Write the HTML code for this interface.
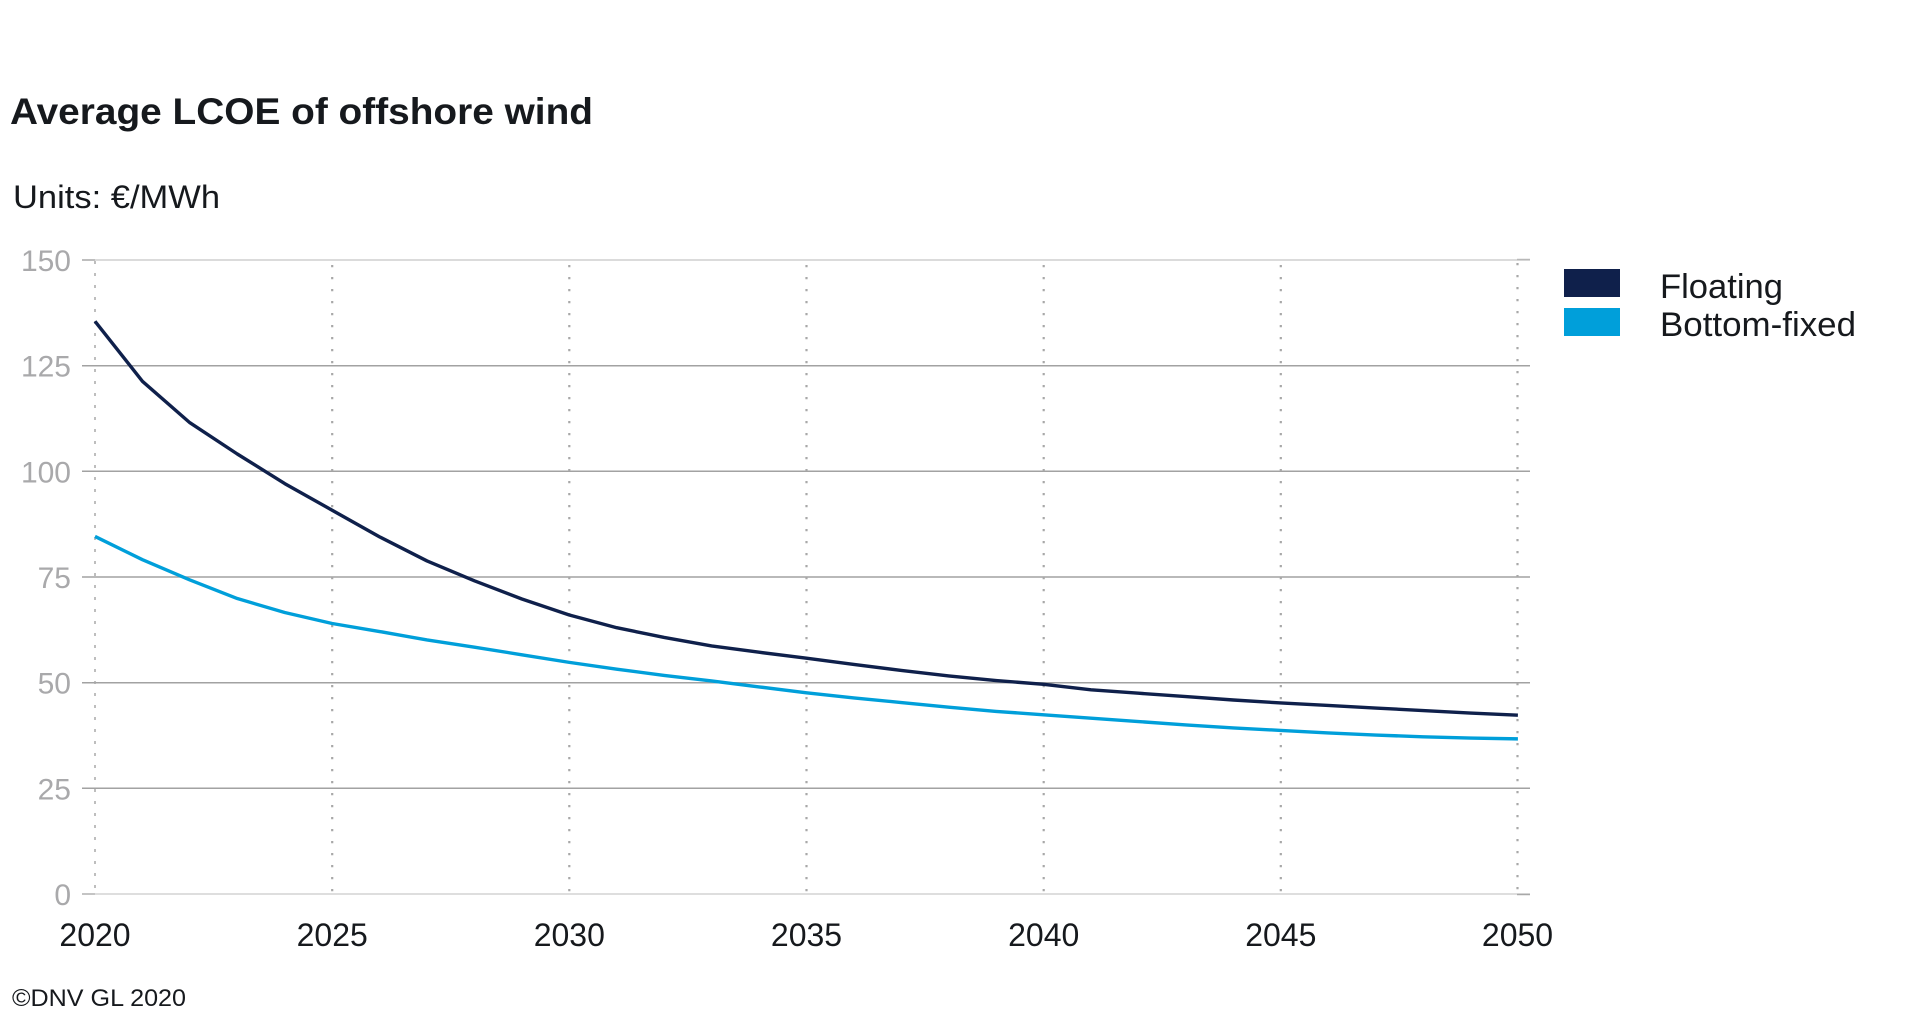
<!DOCTYPE html>
<html>
<head>
<meta charset="utf-8">
<style>
  html, body { margin: 0; padding: 0; background: #ffffff; }
  svg { display: block; }
  text { font-family: "Liberation Sans", "DejaVu Sans", sans-serif; }
</style>
</head>
<body>
<svg width="1907" height="1017" viewBox="0 0 1907 1017" xmlns="http://www.w3.org/2000/svg">
  <rect x="0" y="0" width="1907" height="1017" fill="#ffffff"/>

  <!-- Title -->
  <text x="10" y="124" font-size="37" font-weight="bold" fill="#16191d" textLength="583" lengthAdjust="spacingAndGlyphs">Average LCOE of offshore wind</text>
  <!-- Units -->
  <text x="13" y="208" font-size="32" fill="#16191d" textLength="207" lengthAdjust="spacingAndGlyphs">Units: €/MWh</text>

  <!-- Horizontal gridlines -->
  <g stroke-width="1.5">
    <line x1="82" y1="260" x2="1530" y2="260" stroke="#cfcfcf"/>
    <line x1="82" y1="365.7" x2="1530" y2="365.7" stroke="#a2a2a2"/>
    <line x1="82" y1="471.3" x2="1530" y2="471.3" stroke="#a2a2a2"/>
    <line x1="82" y1="577" x2="1530" y2="577" stroke="#a2a2a2"/>
    <line x1="82" y1="682.7" x2="1530" y2="682.7" stroke="#a2a2a2"/>
    <line x1="82" y1="788.3" x2="1530" y2="788.3" stroke="#a2a2a2"/>
    <line x1="95" y1="894" x2="1530" y2="894" stroke="#d4d4d4"/>
    <line x1="82" y1="894" x2="95" y2="894" stroke="#b0b0b0"/>
    <line x1="82" y1="260" x2="95" y2="260" stroke="#b0b0b0"/>
    <line x1="1517" y1="894.5" x2="1530" y2="894.5" stroke="#a8a8a8"/>
    <line x1="1517" y1="259.5" x2="1530" y2="259.5" stroke="#b8b8b8"/>
  </g>

  <!-- Vertical dotted gridlines -->
  <g stroke="#a8a8a8" fill="none">
    <line x1="95" y1="261" x2="95" y2="894" stroke-width="1.5" stroke-dasharray="3 9"/>
    <line x1="332.2" y1="265" x2="332.2" y2="894" stroke-width="2.2" stroke-dasharray="2.2 9.8"/>
    <line x1="569.3" y1="265" x2="569.3" y2="894" stroke-width="2.2" stroke-dasharray="2.2 9.8"/>
    <line x1="806.5" y1="265" x2="806.5" y2="894" stroke-width="2.2" stroke-dasharray="2.2 9.8"/>
    <line x1="1043.7" y1="265" x2="1043.7" y2="894" stroke-width="2.2" stroke-dasharray="2.2 9.8"/>
    <line x1="1280.8" y1="265" x2="1280.8" y2="894" stroke-width="2.2" stroke-dasharray="2.2 9.8"/>
    <line x1="1517.5" y1="263" x2="1517.5" y2="894" stroke-width="2.2" stroke-dasharray="2.2 9.8"/>
  </g>

  <!-- Y axis labels -->
  <g font-size="30" fill="#a9a9ab" text-anchor="end">
    <text x="71" y="271">150</text>
    <text x="71" y="376.7">125</text>
    <text x="71" y="482.3">100</text>
    <text x="71" y="588">75</text>
    <text x="71" y="693.7">50</text>
    <text x="71" y="799.3">25</text>
    <text x="71" y="905">0</text>
  </g>

  <!-- X axis labels -->
  <g font-size="32" fill="#16191d" text-anchor="middle">
    <text x="95" y="946">2020</text>
    <text x="332.2" y="946">2025</text>
    <text x="569.3" y="946">2030</text>
    <text x="806.5" y="946">2035</text>
    <text x="1043.7" y="946">2040</text>
    <text x="1280.8" y="946">2045</text>
    <text x="1517.5" y="946">2050</text>
  </g>

  <!-- Data series (data coordinates: x = year index, y = value) -->
  <g transform="translate(95,894) scale(47.43,-4.2267)" fill="none" stroke-linejoin="round">
    <polyline vector-effect="non-scaling-stroke" stroke="#009fda" stroke-width="3.4"
      points="0,84.6 1,79.1 2,74.3 3,69.9 4,66.6 5,64.0 6,62.1 7,60.1 8,58.4 9,56.6 10,54.8 11,53.2 12,51.7 13,50.4 14,49.0 15,47.6 16,46.4 17,45.3 18,44.2 19,43.2 20,42.4 21,41.6 22,40.8 23,40.0 24,39.3 25,38.7 26,38.1 27,37.6 28,37.2 29,36.9 30,36.7"/>
    <polyline vector-effect="non-scaling-stroke" stroke="#0f204b" stroke-width="3.4"
      points="0,135.5 1,121.3 2,111.5 3,104.1 4,97.1 5,90.8 6,84.5 7,78.8 8,74.1 9,69.8 10,66.0 11,63.0 12,60.7 13,58.7 14,57.2 15,55.8 16,54.3 17,52.9 18,51.6 19,50.5 20,49.6 21,48.3 22,47.5 23,46.7 24,45.9 25,45.2 26,44.6 27,44.0 28,43.4 29,42.8 30,42.3"/>
  </g>

  <!-- Legend -->
  <rect x="1564" y="269" width="56" height="28" fill="#0f204b"/>
  <rect x="1564" y="308" width="56" height="28" fill="#009fda"/>
  <text x="1660" y="298" font-size="34" fill="#16191d" textLength="123" lengthAdjust="spacingAndGlyphs">Floating</text>
  <text x="1660" y="336" font-size="34" fill="#16191d" textLength="196" lengthAdjust="spacingAndGlyphs">Bottom-fixed</text>

  <!-- Footer -->
  <text x="12" y="1006" font-size="24" fill="#16191d" textLength="174" lengthAdjust="spacingAndGlyphs">©DNV GL 2020</text>
</svg>
</body>
</html>
